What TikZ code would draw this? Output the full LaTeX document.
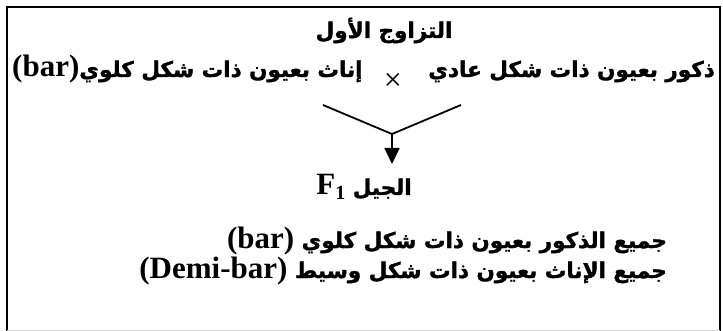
\documentclass[tikz,border=0pt]{standalone}
\usepackage{fontspec}
\setmainfont{Liberation Serif}
\newfontfamily\arfont[Script=Arabic, BoldFeatures={FakeBold=1.6}]{DejaVu Sans}
\TeXXeTstate=1
\usetikzlibrary{arrows.meta}

\newcommand{\lat}[1]{\beginL{\rmfamily\bfseries\fontsize{31}{34}\selectfont #1}\endL}

\begin{document}
\begin{tikzpicture}[
  x=1pt, y=-1pt,
  txt/.style={inner sep=0pt, font=\arfont\bfseries\fontsize{21.5}{24}\selectfont},
  frame/.style={line width=2.2pt},
  vline/.style={line width=1.8pt},
  arrow/.style={-{Triangle[length=16pt,width=15pt]}, line width=1.8pt}
]
\useasboundingbox (0,0) rectangle (723,331);
\draw[frame] (7,331) -- (7,7) -- (720,7) -- (720,331);
\draw[gray!35, line width=1pt] (7,330.5) -- (720,330.5);

\node[txt, anchor=base] (title) at (384,38) {\beginR التزاوج الأول\endR};
\node[txt, anchor=base east] (male) at (715,77) {\beginR ذكور بعيون ذات شكل عادي\endR};
\node[inner sep=0pt, font=\fontsize{32}{32}\selectfont] (cross) at (393,81.5) {×};
\node[txt, anchor=base west] (female) at (12,77) {\beginR إناث بعيون ذات شكل كلوي\lat{(bar)}\endR};

\coordinate (vl) at (323,105);
\coordinate (vr) at (461,105);
\coordinate (vj) at (392,134);
\coordinate (tip) at (392,164);

\node[txt, anchor=base] (gen) at (364,195) {\beginR الجيل \lat{F\raisebox{-5pt}{\fontsize{20}{20}\selectfont 1}}\endR};
\node[txt, anchor=base east] (allmale) at (667,248) {\beginR جميع الذكور بعيون ذات شكل كلوي \lat{(bar)}\endR};
\node[txt, anchor=base east] (allfemale) at (667,278) {\beginR جميع الإناث بعيون ذات شكل وسيط \lat{(Demi-bar)}\endR};

\draw[vline] (vl) -- (vj) -- (vr);
\draw[arrow] (vj) -- (tip);
\end{tikzpicture}
\end{document}
